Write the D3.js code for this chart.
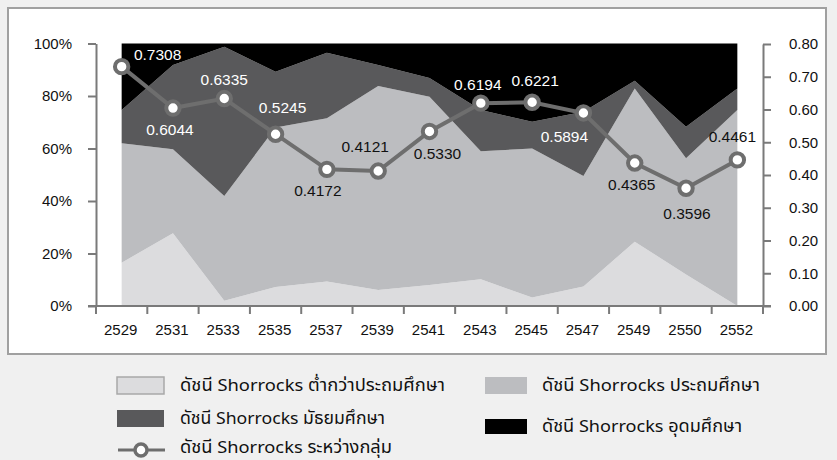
<!DOCTYPE html>
<html>
<head>
<meta charset="utf-8">
<script src="https://cdn.jsdelivr.net/npm/d3@7"></script>
<style>
  body { margin: 0; background: #f0f0f0; }
  svg text { font-family: "Liberation Sans", Arial, sans-serif; }
  .legend text { font-family: "Noto Sans Thai", "Loma", "Garuda", "Liberation Sans", sans-serif; }
</style>
</head>
<body>
<svg id="chart" width="837" height="460"></svg>
<script>
// years (Buddhist era)
const years = ['2529', '2531', '2533', '2535', '2537', '2539', '2541', '2543', '2545', '2547', '2549', '2550', '2552'];

// share of each level, percent (stacked to 100)
const belowPrimary = [16.5, 27.7, 2.0, 7.2, 9.3, 6.1, 8.0, 10.2, 3.2, 7.4, 24.5, 12.0, 0.0];
const primary      = [45.5, 32.0, 39.9, 60.8, 62.2, 77.7, 71.7, 48.8, 56.8, 42.1, 58.4, 44.3, 74.7];
const secondary    = [12.7, 32.1, 56.9, 21.2, 25.0, 8.0, 7.2, 15.7, 10.2, 24.5, 2.9, 12.0, 8.2];
const tertiary     = [25.3, 8.2, 1.2, 10.8, 3.5, 8.2, 13.1, 25.3, 29.8, 26.0, 14.2, 31.7, 17.1];

// Shorrocks index between groups (right axis)
const between = [0.7308, 0.6044, 0.6335, 0.5245, 0.4172, 0.4121, 0.5330, 0.6194, 0.6221, 0.5894, 0.4365, 0.3596, 0.4461];

const leftTicks = [0, 20, 40, 60, 80, 100];
const rightTicks = [0, 0.1, 0.2, 0.3, 0.4, 0.5, 0.6, 0.7, 0.8];

const seriesNames = [
  'ดัชนี Shorrocks ต่ำกว่าประถมศึกษา',
  'ดัชนี Shorrocks ประถมศึกษา',
  'ดัชนี Shorrocks มัธยมศึกษา',
  'ดัชนี Shorrocks อุดมศึกษา'
];
const lineName = 'ดัชนี Shorrocks ระหว่างกลุ่ม';

// --- styling / layout (not data) ---
const colors = ['#dcdcde', '#bcbdc0', '#59595b', '#000000'];
const lineColor = '#6e6e6e';
// label placement relative to each dot: [dx, dy, white?]
const labelPlace = [
  [36, -12, 1], [-3, 22, 1], [0, -19, 1], [7, -27, 1], [-9, 21, 0], [-13, -24, 0],
  [8, 22, 0], [-3, -19, 1], [3, -22, 1], [-19, 24, 1], [-3, 22, 0], [1, 25, 0], [-5, -23, 0]
];

const svg = d3.select('#chart');

// white frame
svg.append('rect')
  .attr('x', 8).attr('y', 8).attr('width', 818).attr('height', 346)
  .attr('fill', '#ffffff').attr('stroke', '#a0a0a0').attr('stroke-width', 2);

const plot = { left: 96, right: 763, top: 43.5, bottom: 306 };

const x = d3.scaleBand().domain(years).range([plot.left, plot.right]);
const xc = d => x(d) + x.bandwidth() / 2;
const yL = d3.scaleLinear().domain([0, 100]).range([plot.bottom, plot.top]);
const yR = d3.scaleLinear().domain([0, 0.8]).range([plot.bottom, 44]);

// stacked areas
const table = years.map((yr, i) => ({
  year: yr, a: belowPrimary[i], b: primary[i], c: secondary[i], d: tertiary[i]
}));
const stack = d3.stack().keys(['a', 'b', 'c', 'd']);
const layers = stack(table);

const area = d3.area()
  .x(d => xc(d.data.year))
  .y0(d => yL(d[0]))
  .y1(d => yL(d[1]));

svg.append('g').selectAll('path')
  .data(layers)
  .join('path')
  .attr('d', area)
  .attr('fill', (d, i) => colors[i]);

// axes
const axisColor = '#7a7a7a';
function styleAxis(g) {
  g.selectAll('path.domain').attr('stroke', axisColor).attr('stroke-width', 2);
  g.selectAll('.tick line').attr('stroke', axisColor).attr('stroke-width', 2);
  g.selectAll('.tick text').attr('fill', '#111').attr('font-size', 15)
    .attr('font-family', '"Liberation Sans", Arial, sans-serif');
}

svg.append('g')
  .attr('transform', `translate(${plot.left},0)`)
  .call(d3.axisLeft(yL).tickValues(leftTicks).tickFormat(d => d + '%').tickSize(8).tickSizeOuter(0).tickPadding(16))
  .call(styleAxis);

svg.append('g')
  .attr('transform', `translate(${plot.right},0)`)
  .call(d3.axisRight(yR).tickValues(rightTicks).tickFormat(d3.format('.2f')).tickSize(8).tickSizeOuter(0).tickPadding(18))
  .call(styleAxis);

// x axis: ticks on band edges
const xAxis = svg.append('g').attr('transform', `translate(0,${plot.bottom})`);
xAxis.append('line')
  .attr('x1', plot.left - 8).attr('x2', plot.right + 8)
  .attr('stroke', axisColor).attr('stroke-width', 2);
const edges = years.map(y => x(y)).concat([plot.right]);
xAxis.selectAll('line.edge')
  .data(edges)
  .join('line')
  .attr('class', 'edge')
  .attr('x1', d => d).attr('x2', d => d)
  .attr('y1', 0).attr('y2', 8)
  .attr('stroke', axisColor).attr('stroke-width', 2);
xAxis.selectAll('text')
  .data(years)
  .join('text')
  .attr('x', d => xc(d) - 1)
  .attr('y', 24)
  .attr('dy', '0.32em')
  .attr('text-anchor', 'middle')
  .attr('font-size', 15)
  .attr('fill', '#111')
  .text(d => d);

// between-group line
const line = d3.line().x((d, i) => xc(years[i])).y(d => yR(d));
svg.append('path')
  .datum(between)
  .attr('d', line)
  .attr('fill', 'none')
  .attr('stroke', lineColor)
  .attr('stroke-width', 4);

svg.append('g').selectAll('circle')
  .data(between)
  .join('circle')
  .attr('cx', (d, i) => xc(years[i]))
  .attr('cy', d => yR(d))
  .attr('r', 6.7)
  .attr('fill', '#fff')
  .attr('stroke', lineColor)
  .attr('stroke-width', 4);

svg.append('g').selectAll('text')
  .data(between)
  .join('text')
  .attr('x', (d, i) => xc(years[i]) + labelPlace[i][0])
  .attr('y', (d, i) => yR(d) + labelPlace[i][1])
  .attr('dy', '0.35em')
  .attr('text-anchor', 'middle')
  .attr('font-size', 15.5)
  .attr('fill', (d, i) => labelPlace[i][2] ? '#fff' : '#111')
  .text(d => d3.format('.4f')(d));

// legend
const legend = svg.append('g').attr('class', 'legend');
const legendPos = [
  { sx: 117, sy: 377, tx: 180, ty: 385.5, w: 47, h: 17 },
  { sx: 485, sy: 377, tx: 542, ty: 385.5, w: 42, h: 17 },
  { sx: 117, sy: 410, tx: 180, ty: 418.5, w: 47, h: 17 },
  { sx: 485, sy: 419, tx: 542, ty: 426.5, w: 42, h: 15 }
];
const legendWidth = [265, 218, 205, 200];
seriesNames.forEach((name, i) => {
  const p = legendPos[i];
  legend.append('rect')
    .attr('x', p.sx).attr('y', p.sy).attr('width', p.w).attr('height', p.h)
    .attr('fill', colors[i])
    .attr('stroke', i === 0 ? '#a8a8a8' : 'none')
    .attr('stroke-width', i === 0 ? 1.5 : 0);
  legend.append('text')
    .attr('x', p.tx).attr('y', p.ty).attr('dy', '0.35em')
    .attr('font-size', 17).attr('fill', '#111')
    .attr('textLength', legendWidth[i]).attr('lengthAdjust', 'spacingAndGlyphs')
    .text(name);
});
legend.append('line')
  .attr('x1', 118).attr('x2', 165).attr('y1', 450).attr('y2', 450)
  .attr('stroke', lineColor).attr('stroke-width', 3);
legend.append('circle')
  .attr('cx', 141).attr('cy', 450).attr('r', 6)
  .attr('fill', '#fff').attr('stroke', lineColor).attr('stroke-width', 3.5);
legend.append('text')
  .attr('x', 180).attr('y', 447).attr('dy', '0.35em')
  .attr('font-size', 17).attr('fill', '#111')
  .attr('textLength', 212).attr('lengthAdjust', 'spacingAndGlyphs')
  .text(lineName);
</script>
</body>
</html>
